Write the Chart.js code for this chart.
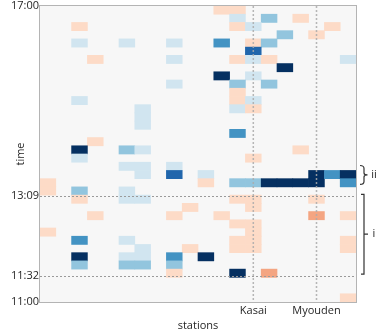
<!DOCTYPE html>
<html>
<head>
<meta charset="utf-8">
<script src="https://cdn.jsdelivr.net/npm/chart.js@4.4.1/dist/chart.umd.min.js"></script>
<style>
  html, body { margin: 0; padding: 0; background: #ffffff; }
  #c { display: block; }
</style>
</head>
<body>
<canvas id="c" width="378" height="336"></canvas>
<script>
// Tozai line stations, west to east
const stations = [
  'Waseda', 'Kagurazaka', 'Iidabashi', 'Kudanshita', 'Takebashi', 'Otemachi',
  'Nihombashi', 'Kayabacho', 'Monzen-nakacho', 'Kiba', 'Toyocho', 'Minami-sunamachi',
  'Nishi-kasai', 'Kasai', 'Urayasu', 'Minami-gyotoku', 'Gyotoku', 'Myouden',
  'Baraki-nakayama', 'Nishi-funabashi'
];
const markedStations = ['Kasai', 'Myouden'];

const dayStart = '11:00';
const dayEnd = '17:00';
const slotMinutes = 10;
const timeTicks = ['11:00', '11:32', '13:09', '17:00'];
const markedTimes = ['11:32', '13:09'];

// [station index, slot start, deviation level]
const cells = [
  [2, '16:30', 1], [2, '16:10', -1], [5, '16:10', -1], [8, '16:10', -1],
  [3, '15:50', 1], [8, '15:50', -1], [8, '15:20', -1], [2, '15:00', -1],
  [6, '14:50', -1], [6, '14:40', -1], [6, '14:30', -1], [3, '14:10', 1],
  [2, '14:00', -5], [5, '14:00', -2], [6, '14:00', -1], [2, '13:50', -1],
  [5, '13:40', -1], [6, '13:40', -1], [8, '13:40', -1],
  [6, '13:30', -1], [8, '13:30', -4], [0, '13:20', 1], [0, '13:10', 1],
  [2, '13:10', -2], [2, '13:00', 1], [5, '13:10', -1], [5, '13:00', -1], [6, '13:00', -1],
  [9, '12:50', 1], [3, '12:40', 1], [8, '12:40', 1], [0, '12:20', 1],
  [2, '12:10', -3], [5, '12:10', -1], [6, '12:00', -1], [9, '12:00', 1],
  [2, '11:50', -5], [5, '11:50', -1], [6, '11:50', -1], [8, '11:50', -3],
  [2, '11:40', -2], [5, '11:40', -2], [6, '11:40', -2], [8, '11:40', -2], [8, '11:30', 1],
  [11, '16:50', 1], [12, '16:50', 1], [12, '16:40', -1], [14, '16:40', -2], [16, '16:40', 1],
  [12, '16:30', 1], [13, '16:30', -1], [18, '16:30', 1], [15, '16:20', -2], [17, '16:20', 1],
  [11, '16:10', -3], [13, '16:10', 1], [14, '16:10', -2], [13, '16:00', -4],
  [12, '15:50', 1], [13, '15:50', -1], [14, '15:50', 1], [19, '15:50', -1],
  [15, '15:40', -5], [11, '15:30', -5], [13, '15:30', -1], [12, '15:20', -2], [14, '15:20', -2],
  [12, '15:10', 1], [12, '15:00', 1], [13, '15:00', -1], [12, '14:50', -1], [13, '14:50', 1],
  [12, '14:20', -3], [16, '14:00', 1], [13, '13:50', 1],
  [10, '13:30', -1], [10, '13:20', 1], [12, '13:20', -2], [13, '13:20', -2],
  [14, '13:20', -5], [15, '13:20', -5], [16, '13:20', -5], [17, '13:30', -5], [17, '13:20', -5],
  [18, '13:30', -3], [19, '13:30', -5], [19, '13:20', -3],
  [12, '13:00', 1], [13, '13:00', 1], [13, '12:50', 1], [17, '13:00', 1], [17, '12:40', 2],
  [19, '12:40', 1], [11, '12:40', 1], [12, '12:30', 1], [13, '12:30', 1], [13, '12:20', 1],
  [12, '12:10', 1], [13, '12:10', 1], [12, '12:00', 1], [13, '12:00', 1],
  [19, '12:10', 1], [19, '12:00', 1], [10, '11:50', -5], [12, '11:30', -5], [14, '11:30', 2],
  [19, '11:00', 1]
];

// bracketed periods on the right margin
const periods = [
  { label: 'i', from: '11:34', to: '13:11', shape: 'square' },
  { label: 'ii', from: '13:23', to: '13:46', shape: 'curly' }
];

const levelColors = {
  '-5': '#053061', '-4': '#2166ac', '-3': '#4393c3', '-2': '#92c5de',
  '-1': '#d1e5f0', '1': '#fddbc7', '2': '#f4a582'
};

const clock = s => { const [h, m] = s.split(':').map(Number); return h * 60 + m; };
const toMin = s => clock(s) - clock(dayStart);
const fmt = v => {
  const t = clock(dayStart) + v;
  const h = Math.floor(t / 60), m = t % 60;
  return h + ':' + String(m).padStart(2, '0');
};

const textColor = '#262626';
const font = { family: "'Open Sans', sans-serif", size: 11 };

const cellData = cells.map(([c, t, v]) => ({
  x: stations[c],
  y: [toMin(t), toMin(t) + slotMinutes],
  v
}));

const decor = {
  id: 'decor',
  beforeDatasetsDraw(chart) {
    const { ctx, chartArea: a } = chart;
    ctx.save();
    ctx.fillStyle = '#f7f7f7';
    ctx.fillRect(a.left, a.top, a.right - a.left, a.bottom - a.top);
    ctx.restore();
  },
  afterDatasetsDraw(chart) {
    const { ctx, chartArea: a, scales: { x, y } } = chart;
    ctx.save();
    // station markers
    ctx.setLineDash([2, 2]);
    ctx.lineWidth = 1.5;
    ctx.strokeStyle = 'rgba(170,170,170,0.85)';
    markedStations.forEach(name => {
      const px = x.getPixelForValue(stations.indexOf(name));
      ctx.beginPath();
      ctx.moveTo(px, a.top);
      ctx.lineTo(px, a.bottom);
      ctx.stroke();
    });
    // time markers
    ctx.lineWidth = 1;
    ctx.strokeStyle = '#9a9a9a';
    markedTimes.forEach(t => {
      const py = Math.round(y.getPixelForValue(toMin(t))) + 0.5;
      ctx.beginPath();
      ctx.moveTo(a.left, py);
      ctx.lineTo(a.right, py);
      ctx.stroke();
    });
    ctx.setLineDash([]);
    // frame
    ctx.strokeStyle = '#b4b4b4';
    ctx.lineWidth = 1;
    ctx.strokeRect(Math.round(a.left) - 0.5, Math.round(a.top) - 0.5,
      Math.round(a.right - a.left) + 1, Math.round(a.bottom - a.top) + 1);
    // period brackets
    const bx = a.right + 8;
    ctx.strokeStyle = '#333333';
    ctx.lineWidth = 1.2;
    ctx.fillStyle = textColor;
    ctx.font = "11px 'Open Sans', sans-serif";
    ctx.textAlign = 'center';
    ctx.textBaseline = 'middle';
    periods.forEach(p => {
      const y1 = y.getPixelForValue(toMin(p.to));
      const y2 = y.getPixelForValue(toMin(p.from));
      const ym = (y1 + y2) / 2;
      ctx.beginPath();
      if (p.shape === 'curly') {
        ctx.moveTo(bx - 4, y1);
        ctx.quadraticCurveTo(bx, y1, bx, y1 + 3);
        ctx.lineTo(bx, ym - 2);
        ctx.quadraticCurveTo(bx, ym, bx + 3.5, ym);
        ctx.quadraticCurveTo(bx, ym, bx, ym + 2);
        ctx.lineTo(bx, y2 - 3);
        ctx.quadraticCurveTo(bx, y2, bx - 4, y2);
      } else {
        ctx.moveTo(bx - 3, y1);
        ctx.lineTo(bx, y1);
        ctx.lineTo(bx, y2);
        ctx.lineTo(bx - 3, y2);
        ctx.moveTo(bx, ym);
        ctx.lineTo(bx + 4, ym);
      }
      ctx.stroke();
      ctx.fillText(p.label, bx + 10, ym);
    });
    ctx.restore();
  }
};

new Chart(document.getElementById('c'), {
  type: 'bar',
  data: {
    labels: stations,
    datasets: [{
      data: cellData,
      backgroundColor: ctx => (ctx.raw ? levelColors[String(ctx.raw.v)] : '#ccc'),
      borderWidth: 0,
      barPercentage: 1,
      categoryPercentage: 1
    }]
  },
  options: {
    responsive: false,
    devicePixelRatio: 1,
    animation: false,
    layout: { padding: { top: 6, right: 22, left: 0, bottom: 0 } },
    plugins: { legend: { display: false }, tooltip: { enabled: false } },
    scales: {
      x: {
        type: 'category',
        offset: true,
        grid: { display: false, drawTicks: false },
        border: { display: false },
        ticks: {
          autoSkip: false,
          maxRotation: 0,
          padding: 2,
          color: textColor,
          font,
          callback(v, i) {
            const n = stations[i];
            return markedStations.includes(n) ? n : '';
          }
        },
        title: {
          display: true, text: 'stations', color: textColor, font,
          padding: { top: 0, bottom: 4 }
        },
        afterFit(s) { s.height = 34; s.paddingLeft = 0; s.paddingRight = 0; }
      },
      y: {
        type: 'linear',
        min: toMin(dayStart),
        max: toMin(dayEnd),
        afterBuildTicks(s) { s.ticks = timeTicks.map(t => ({ value: toMin(t) })); },
        grid: { display: false, drawTicks: false },
        border: { display: false },
        ticks: { padding: 1, color: textColor, font, callback: v => fmt(v) },
        title: {
          display: true, text: 'time', color: textColor, font,
          padding: { top: 14, bottom: 0 }
        },
        afterFit(s) { s.width = 40; s.paddingTop = 0; s.paddingBottom = 0; }
      }
    }
  },
  plugins: [decor]
});
</script>
</body>
</html>
